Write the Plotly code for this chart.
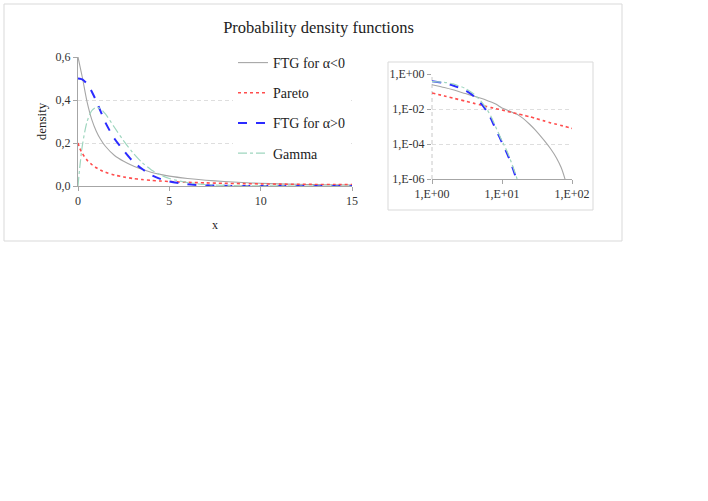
import plotly.graph_objects as go

# ---------------- data ----------------
x_lin = [0, 0.1, 0.25, 0.5, 0.75, 1, 1.25, 1.5, 2, 2.5, 3, 3.5, 4, 4.5, 5,
         6, 7, 8, 9, 10, 11, 12, 13, 14, 15]
ftg_neg = [0.60, 0.56, 0.50, 0.39, 0.31, 0.255, 0.215, 0.185, 0.142, 0.115, 0.094,
           0.078, 0.064, 0.054, 0.046, 0.035, 0.027, 0.021, 0.016, 0.0125, 0.010,
           0.008, 0.0066, 0.0056, 0.0048]
pareto = [0.200, 0.175, 0.150, 0.120, 0.100, 0.085, 0.073, 0.064, 0.051, 0.042, 0.035,
          0.030, 0.026, 0.023, 0.021, 0.017, 0.0145, 0.0125, 0.011, 0.0098, 0.0088,
          0.0080, 0.0073, 0.0067, 0.0062]
ftg_pos = [0.500, 0.499, 0.495, 0.475, 0.44, 0.395, 0.345, 0.295, 0.22, 0.165, 0.115,
           0.08, 0.052, 0.033, 0.021, 0.008, 0.003, 0.0009, 0.0003, 0.0001, 0.00003,
           0.00001, 0.0, 0.0, 0.0]
gamma = [0.0, 0.09, 0.195, 0.30, 0.35, 0.366, 0.358, 0.335, 0.272, 0.21, 0.155,
         0.11, 0.076, 0.052, 0.035, 0.016, 0.007, 0.003, 0.0012, 0.0005, 0.0002,
         0.0001, 0.00003, 0.00001, 0.0]

x_log = [1, 1.5, 2, 3, 4, 5, 6, 7, 8, 9, 10, 12, 14, 16, 17, 20, 25, 30, 40, 50,
         60, 70, 80, 90, 100]
ftg_neg_log = [0.245, 0.17, 0.125, 0.076, 0.054, 0.041, 0.032, 0.025, 0.020, 0.015,
               0.0115, 0.0085, 0.0065, 0.0051, 0.0046, 0.0029, 0.0013, 6.2e-4, 1.6e-4,
               5.0e-5, 1.6e-5, 4.5e-6, 9e-7, 1.5e-7, None]
pareto_log = [0.082, 0.056, 0.042, 0.028, 0.021, 0.0168, 0.014, 0.012, 0.0106, 0.0096,
              0.0088, 0.0073, 0.0063, 0.0055, 0.0052, 0.0045, 0.0036, 0.0029, 0.0021,
              0.0016, 0.00135, 0.00115, 0.001, 0.00088, 0.00078]
ftg_pos_log = [0.38, 0.30, 0.22, 0.115, 0.052, 0.021, 0.008, 0.0027, 0.0008, 0.0003,
               0.00012, 0.000025, 0.000005, 0.000001, 0.0000004] + [None] * 10
gamma_log = [0.37, 0.335, 0.27, 0.15, 0.07, 0.028, 0.0105, 0.0036, 0.0011, 0.00038,
             0.00015, 0.000033, 0.0000065, 0.0000014, 0.0000006] + [None] * 10

names = ["FTG for α<0", "Pareto", "FTG for α>0", "Gamma"]
log_x_ticks = [1, 10, 100]
log_x_text = ["1,E+00", "1,E+01", "1,E+02"]
log_y_ticks = [1, 1e-2, 1e-4, 1e-6]
log_y_text = ["1,E+00", "1,E-02", "1,E-04", "1,E-06"]

# ---------------- styles ----------------
W, H = 708, 501
FONT = "Liberation Serif"
styles = [
    dict(color="#a6a6a6", width=1.1, dash="solid"),
    dict(color="#ff4d4d", width=1.6, dash="dot"),
    dict(color="#2b2bff", width=2.0, dash="dash"),
    dict(color="#9fd6bf", width=1.2, dash="dashdot"),
]

def px(x):
    return x / W

def py(y):
    return 1 - y / H

fig = go.Figure()
main_series = [ftg_neg, pareto, ftg_pos, gamma]
log_series = [ftg_neg_log, pareto_log, ftg_pos_log, gamma_log]
for i, (name, ys) in enumerate(zip(names, main_series)):
    fig.add_trace(go.Scatter(x=x_lin, y=ys, name=name, mode="lines",
                             line=dict(shape="spline", smoothing=0.8, **styles[i]),
                             legendgroup=name, xaxis="x", yaxis="y"))
for i, (name, ys) in enumerate(zip(names, log_series)):
    fig.add_trace(go.Scatter(x=x_log, y=ys, name=name, mode="lines",
                             line=dict(shape="spline", smoothing=0.6, **styles[i]),
                             showlegend=False, legendgroup=name, xaxis="x2", yaxis="y2"))

axis_col = "#a6a6a6"
grid_col = "#dedede"
grid_dash = "4px,3px"
tickfont = dict(family=FONT, size=12, color="#333333")

fig.update_layout(
    width=W, height=H,
    autosize=False,
    margin=dict(l=0, r=0, t=0, b=0, pad=0),
    paper_bgcolor="white", plot_bgcolor="white",
    separators=",.",
    font=dict(family=FONT, color="#222222"),
    title=dict(text="Probability density functions", x=px(318.5), y=py(27),
               xanchor="center", yanchor="middle", xref="paper", yref="paper",
               automargin=False,
               font=dict(family=FONT, size=16.5, color="#222222")),
    xaxis=dict(domain=[px(78), px(352)], range=[0, 15], tickvals=[0, 5, 10, 15],
               showgrid=False, zeroline=False, showline=True, linecolor=axis_col,
               linewidth=1, ticks="outside", ticklen=4, tickcolor=axis_col,
               tickfont=tickfont, anchor="y", automargin=False,
               title=dict(text="x", font=dict(family=FONT, size=12), standoff=13)),
    yaxis=dict(domain=[py(186), py(57)], range=[0, 0.6], tickvals=[0, 0.2, 0.4, 0.6],
               tickformat=".1f", showgrid=True, gridcolor=grid_col, griddash=grid_dash,
               gridwidth=1, zeroline=False, showline=True, linecolor=axis_col,
               ticks="outside", ticklen=4, tickcolor=axis_col, tickfont=tickfont,
               anchor="x", automargin=False,
               title=dict(text="density", font=dict(family=FONT, size=13), standoff=6)),
    xaxis2=dict(domain=[px(432), px(572)], type="log", range=[0, 2],
                tickvals=log_x_ticks, ticktext=log_x_text, showgrid=False,
                zeroline=False, showline=True, linecolor=axis_col, ticks="outside",
                ticklen=4, tickcolor=axis_col, tickfont=tickfont, anchor="y2",
                automargin=False),
    yaxis2=dict(domain=[py(179), py(74)], type="log", range=[-6, 0],
                tickvals=log_y_ticks, ticktext=log_y_text, showgrid=True,
                gridcolor=grid_col, griddash=grid_dash, zeroline=False, showline=False,
                ticks="outside", ticklen=4, tickcolor=axis_col, tickfont=tickfont,
                anchor="x2", automargin=False),
    legend=dict(x=px(233), y=py(47), xanchor="left", yanchor="top",
                bgcolor="white", borderwidth=0, tracegroupgap=9,
                font=dict(family=FONT, size=14, color="#222222"),
                itemclick=False, itemdoubleclick=False),
    shapes=[
        dict(type="rect", xref="paper", yref="paper", x0=px(4), x1=px(622),
             y0=py(241), y1=py(4), line=dict(color="#d9d9d9", width=1),
             layer="below"),
        dict(type="rect", xref="paper", yref="paper", x0=px(388), x1=px(593),
             y0=py(210), y1=py(62), line=dict(color="#d9d9d9", width=1),
             layer="below"),
        dict(type="line", xref="x2 domain", yref="y2 domain", x0=0, x1=0, y0=0, y1=1,
             line=dict(color="#c8c8c8", width=1, dash=grid_dash), layer="below"),
    ],
)

fig.write_html("out.html", config={"displayModeBar": False},
               post_script="document.body.style.margin='0px';document.body.style.padding='0px';")
